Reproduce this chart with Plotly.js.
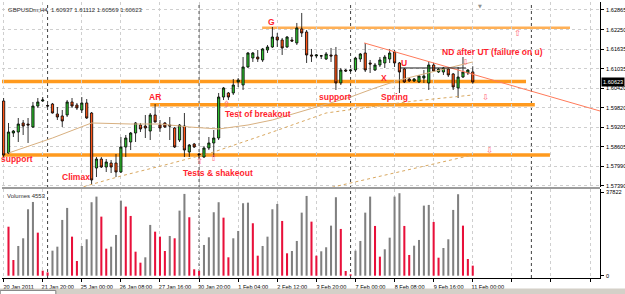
<!DOCTYPE html>
<html><head><meta charset="utf-8">
<script src="https://cdn.plot.ly/plotly-3.0.1.min.js"></script>
<style>html,body{margin:0;padding:0;background:#fff;}#chart{width:625px;height:294px;}</style>
</head><body><div id="chart"></div>
<script>
// ---- data (GBPUSDm H4, 97 bars) ----
const open = [
1.60031,1.58411,1.59034,1.59065,1.59346,1.59314,1.59221,1.59875,1.60031,1.59890,
1.59937,1.59626,1.59564,1.59595,1.60000,1.59906,1.59750,1.59969,1.59657,1.57944,
1.58224,1.57975,1.58100,1.58100,1.57819,1.58598,1.58754,1.59034,1.59283,1.59252,
1.59096,1.59595,1.59283,1.59346,1.59283,1.59190,1.58816,1.59252,1.58442,1.58691,
1.58380,1.58286,1.58567,1.58723,1.58878,1.60155,1.60280,1.60280,1.60623,1.60529,
1.61090,1.61370,1.61401,1.61308,1.61619,1.61713,1.62024,1.61931,1.61713,1.61931,
1.61838,1.62274,1.62180,1.61464,1.61433,1.61440,1.61339,1.61464,1.61464,1.60592,
1.60996,1.60975,1.60996,1.61339,1.61526,1.61215,1.60996,1.61152,1.61215,1.61339,
1.61557,1.61215,1.61028,1.60716,1.60654,1.60623,1.60747,1.60592,1.61152,1.60934,
1.60934,1.61028,1.60872,1.60436,1.60778,1.60903,1.60937];
const high = [
1.60124,1.59346,1.59127,1.59501,1.59439,1.59501,1.60000,1.60124,1.60155,1.59937,
1.59969,1.59844,1.59750,1.60062,1.60124,1.59969,1.60155,1.60093,1.59688,1.58286,
1.58286,1.58224,1.58193,1.58380,1.58909,1.58972,1.59065,1.59377,1.59346,1.59595,
1.59657,1.59937,1.59439,1.59377,1.59532,1.59221,1.59314,1.59657,1.58691,1.58723,
1.58411,1.58630,1.58909,1.59127,1.60280,1.60467,1.60311,1.60716,1.60747,1.61401,
1.61557,1.61557,1.61619,1.61682,1.61775,1.62336,1.62149,1.61993,1.62055,1.62024,
1.62461,1.62772,1.62242,1.61651,1.61495,1.61464,1.61557,1.61682,1.61713,1.61059,
1.61028,1.61028,1.61401,1.61526,1.61838,1.61308,1.61215,1.61401,1.61464,1.61651,
1.61619,1.61246,1.61059,1.60747,1.60747,1.60841,1.60996,1.61246,1.61215,1.61059,
1.61090,1.61090,1.60903,1.61090,1.61401,1.61028,1.61112];
const low = [
1.58286,1.58380,1.58909,1.58754,1.58972,1.58723,1.59190,1.59813,1.60000,1.59844,
1.59640,1.59439,1.59221,1.59532,1.59813,1.59750,1.59657,1.59470,1.57414,1.57663,
1.57944,1.57819,1.57788,1.57663,1.57788,1.58286,1.58504,1.58754,1.59065,1.58878,
1.58816,1.59360,1.59065,1.59190,1.58816,1.58567,1.58754,1.58286,1.58286,1.58567,
1.58224,1.58255,1.58504,1.58286,1.58816,1.60062,1.60062,1.60218,1.60467,1.60373,
1.61059,1.61246,1.61246,1.61246,1.61526,1.61682,1.61713,1.61464,1.61682,1.61869,
1.61775,1.62024,1.61215,1.61246,1.61370,1.61339,1.61308,1.61246,1.60373,1.60529,
1.60934,1.60934,1.60934,1.61246,1.60934,1.60903,1.60965,1.61090,1.61059,1.61215,
1.61090,1.60280,1.60592,1.60623,1.60623,1.60592,1.60592,1.60373,1.60934,1.60903,
1.60841,1.60778,1.60373,1.60124,1.60747,1.60841,1.60569];
const close = [
1.58349,1.59065,1.59096,1.59314,1.59252,1.59283,1.59875,1.60000,1.60062,1.59875,
1.59657,1.59532,1.59408,1.60000,1.59875,1.59813,1.59969,1.59501,1.57570,1.58224,
1.57975,1.58131,1.57975,1.57819,1.58598,1.58878,1.59034,1.59346,1.59159,1.59190,
1.59595,1.59377,1.59190,1.59221,1.59252,1.58598,1.59283,1.58504,1.58660,1.58598,
1.58349,1.58567,1.58723,1.58878,1.60155,1.60436,1.60155,1.60529,1.60685,1.61090,
1.61526,1.61526,1.61339,1.61651,1.61713,1.62024,1.61931,1.61682,1.62024,1.61900,
1.62305,1.62149,1.61464,1.61433,1.61464,1.61433,1.61495,1.61433,1.60592,1.60996,
1.60965,1.60996,1.61370,1.61495,1.60996,1.61184,1.61152,1.61308,1.61401,1.61526,
1.61215,1.60934,1.60623,1.60654,1.60716,1.60810,1.60810,1.61152,1.60965,1.61028,
1.61059,1.60841,1.60467,1.60778,1.60934,1.60996,1.60623];
const volume = [
null,22200,7100,13470,16950,30100,33400,19500,2270,1500,
11340,13150,25260,30700,17690,6670,13470,16500,33290,35830,
26760,12250,13150,18460,34010,31300,27070,10880,5900,8330,
23000,19950,17690,11200,18000,16950,29480,37050,26480,2900,
2130,13920,17400,28750,33290,26300,8330,16950,20270,32830,
33100,23760,9070,13470,17690,30100,32500,24800,10150,11200,
15740,28570,36140,24490,9070,11060,12880,22680,35550,21180,
2130,630,11340,15740,28570,35830,22540,8620,11970,17230,
35830,37370,22540,9390,13600,16190,31750,32060,24350,8160,
12560,16500,29800,36910,22680,7570,4553];

// moving averages (bar index, value)
const maSolidBar = [1,10,18,26,32,38,44,50,55,60,66,71,76,81,86,91,96];
const maSolidVal = [1.58411,1.58878,1.59346,1.59314,1.59314,1.59221,1.59159,1.59283,1.59439,1.59657,1.59937,1.60155,1.60436,1.60685,1.60872,1.61059,1.61246];
const maDotABar = [14,24,33,43,55,66,75,84,96];
const maDotAVal = [1.57258,1.57694,1.58037,1.58442,1.59065,1.59657,1.59844,1.60031,1.60218];
const maDotBBar = [66,76,86,96];
const maDotBVal = [1.57302,1.57654,1.58005,1.58349];

// horizontal levels drawn on the chart
const levelPrice = [1.60640,1.62314,1.59915,1.58349];
const levelFrom  = [-1,52.9,30.0,-1];
const levelTo    = [106.9,115.9,108.7,111.8];
const trendFrom = [73.8,1.61838];
const trendTo   = [122.04,1.59719];
const utLine = [81.1,94.6,1.61059];
const weekSeparators = [9,40,71,108];

// axis labels
const dateLabels = ["20 Jan 2011","21 Jan 20:00","25 Jan 00:00","26 Jan 08:00","27 Jan 16:00","30 Jan 20:00","1 Feb 04:00","2 Feb 12:00","3 Feb 20:00","7 Feb 00:00","8 Feb 08:00","9 Feb 16:00","11 Feb 00:00"];
const priceTicks = [1.57390,1.57990,1.58605,1.59205,1.59820,1.60420,1.61035,1.61635,1.62250,1.62865];
const volTicks = [0,37822];

// text labels (bar, price, text)
const noteBar = [54.9,31.0,2.8,14.8,43.8,52.0,67.8,80.0,77.8,81.9,100.0];
const notePrice = [1.62491,1.60155,1.58224,1.57663,1.57800,1.59626,1.60155,1.60155,1.60747,1.61215,1.61560];
const noteText = ["G","AR","support","Climax","Tests & shakeout","Test of breakout","support","Spring","X","U","ND after UT (failure on u)"];
const arrowBar = [105.1,94.6,98.7,99.5,45.7,42.9,40.0];
const arrowPrice = [1.62149,1.61260,1.60155,1.58504,1.59937,1.58255,1.58150];
const arrowDir = ["up","down","down","down","up","up","up"];

// ---- build ----
const idx = open.map((_, i) => i);
const volColors = volume.map((v, i) => (i > 0 && volume[i-1] != null && v > volume[i-1]) ? "#808080" : "#e8103a");
const last = open.length - 1;

const traces = [
  {type:"scatter", mode:"lines", x:maDotABar, y:maDotAVal, xaxis:"x", yaxis:"y", line:{color:"#d9a860", width:1, dash:"dot"}, hoverinfo:"skip"},
  {type:"scatter", mode:"lines", x:maDotBBar, y:maDotBVal, xaxis:"x", yaxis:"y", line:{color:"#d9a860", width:1, dash:"dot"}, hoverinfo:"skip"},
  {type:"scatter", mode:"lines", x:maSolidBar, y:maSolidVal, xaxis:"x", yaxis:"y", line:{color:"#d8b080", width:1}, hoverinfo:"skip"},
  {type:"candlestick", x:idx, open:open, high:high, low:low, close:close, xaxis:"x", yaxis:"y",
   increasing:{line:{color:"#000000", width:0.8}, fillcolor:"#2fbf2f"},
   decreasing:{line:{color:"#000000", width:0.8}, fillcolor:"#ff5416"},
   whiskerwidth:0, hoverinfo:"skip"},
  {type:"bar", x:idx, y:volume, xaxis:"x2", yaxis:"y2", width:0.42, marker:{color:volColors, line:{width:0}}, hoverinfo:"skip"}
];

const shapes = [];
weekSeparators.forEach(b => shapes.push({type:"line", xref:"x", yref:"paper", x0:b, x1:b, y0:0, y1:1, line:{color:"#404040", width:1, dash:"dot"}, layer:"below"}));
levelPrice.forEach((p, i) => shapes.push({type:"line", xref:"x", yref:"y", x0:levelFrom[i], x1:levelTo[i], y0:p, y1:p,
  line:{color: i===1 ? "#ffb056" : "#ff9a1e", width: i===1 ? 2.5 : 3.5}, layer:"below"}));
shapes.push({type:"line", xref:"x", yref:"y", x0:trendFrom[0], y0:trendFrom[1], x1:trendTo[0], y1:trendTo[1], line:{color:"#ff7a5a", width:1}});
shapes.push({type:"line", xref:"x", yref:"y", x0:utLine[0], x1:utLine[1], y0:utLine[2], y1:utLine[2], line:{color:"#202020", width:1}});
// panel separator & frames
shapes.push({type:"rect", xref:"paper", yref:"paper", x0:0, x1:1, y0:0.3228, y1:0.3297, fillcolor:"#9c9c9c", line:{width:0}});
shapes.push({type:"rect", xref:"paper", yref:"paper", x0:-0.01, x1:1.05, y0:-0.06, y1:-0.038, fillcolor:"#d4d0c8", line:{width:0}});
shapes.push({type:"rect", xref:"paper", yref:"paper", x0:-0.003, x1:0.09, y0:-0.06, y1:-0.045, fillcolor:"#ffffff", line:{color:"#808080", width:1}});

const annotations = [];
noteText.forEach((t, i) => annotations.push({xref:"x", yref:"y", x:noteBar[i], y:notePrice[i], text:"<b>"+t+"</b>", showarrow:false,
  font:{family:"Liberation Sans, Arial", size:8.5, color:"#ff1f2f"}, xanchor:"center", yanchor:"middle"}));
arrowBar.forEach((b, i) => annotations.push({xref:"x", yref:"y", x:b, y:arrowPrice[i], text: arrowDir[i]==="up" ? "\u21E7" : "\u21E9", showarrow:false,
  font:{family:"DejaVu Sans", size:8.5, color:"#ff6a78"}, xanchor:"center", yanchor:"middle"}));
annotations.push({xref:"paper", yref:"paper", x:0, y:1, xshift:4, yshift:-3, xanchor:"left", yanchor:"top", showarrow:false,
  text:"GBPUSDm,H4  " + [open[last],high[last],low[last],close[last]].map(v=>v.toFixed(5)).join(" "),
  font:{family:"Liberation Sans, Arial", size:6, color:"#303030"}});
annotations.push({xref:"paper", yref:"paper", x:0, y:0.3228, xshift:3, yshift:-2, xanchor:"left", yanchor:"top", showarrow:false,
  text:"Volumes " + volume[last], font:{family:"Liberation Sans, Arial", size:6, color:"#303030"}});
annotations.push({xref:"paper", yref:"y", x:1, y:close[last], xanchor:"left", yanchor:"middle", xshift:1, showarrow:false,
  text:close[last].toFixed(5), bgcolor:"#000000", borderpad:1, font:{family:"Liberation Sans, Arial", size:5.6, color:"#ffffff"}});
annotations.push({xref:"paper", yref:"paper", x:0.7993, y:1, yshift:1, xanchor:"center", yanchor:"top", showarrow:false,
  text:"\u25BC", font:{family:"DejaVu Sans", size:5, color:"#909090"}});

const gridTicks = [0,8,16,24,32,40,48,56,64,72,80,88,96,104,112,120];
const gridText = gridTicks.map((t, i) => dateLabels[i] || "");
const axisFont = {family:"Liberation Sans, Arial", size:5.6, color:"#000000"};

const layout = {
  width:625, height:294, margin:{l:2, r:25, t:2, b:16},
  paper_bgcolor:"#ffffff", plot_bgcolor:"#ffffff", showlegend:false, boxgap:0.35,
  xaxis:{domain:[0,1], range:[-0.33,122.04], anchor:"y", tickmode:"array", tickvals:gridTicks, showticklabels:false, ticks:"",
    showgrid:true, gridcolor:"#cfcfcf", griddash:"dot", gridwidth:1, zeroline:false, showline:false, rangeslider:{visible:false}, fixedrange:true},
  xaxis2:{domain:[0,1], range:[-0.33,122.04], anchor:"y2", matches:"x", tickmode:"array", tickvals:gridTicks, ticktext:gridText,
    showgrid:true, gridcolor:"#cfcfcf", griddash:"dot", gridwidth:1, zeroline:false, showline:true, linecolor:"#000000", linewidth:1,
    ticks:"outside", ticklen:3, tickcolor:"#000000", tickfont:axisFont, ticklabelshift:15, ticklabelstandoff:0, tickangle:0, rangeslider:{visible:false}},
  yaxis:{domain:[0.3297,1], range:[1.57352,1.63114], side:"right", anchor:"x", tickmode:"array", tickvals:priceTicks, ticktext:priceTicks.map(v=>v.toFixed(5)),
    showgrid:true, gridcolor:"#cfcfcf", griddash:"dot", zeroline:false, showline:true, linecolor:"#000000", linewidth:1,
    ticks:"outside", ticklen:3, tickcolor:"#000000", tickfont:axisFont, ticklabelstandoff:1},
  yaxis2:{domain:[0,0.3228], range:[-1043,39318], side:"right", anchor:"x2", tickmode:"array", tickvals:volTicks, ticktext:volTicks.map(String),
    showgrid:false, zeroline:false, showline:true, linecolor:"#000000", linewidth:1, ticks:"outside", ticklen:3, tickcolor:"#000000", tickfont:axisFont, ticklabelstandoff:1},
  shapes:shapes, annotations:annotations, hovermode:false
};
Plotly.newPlot("chart", traces, layout, {staticPlot:true, displayModeBar:false});
</script></body></html>
